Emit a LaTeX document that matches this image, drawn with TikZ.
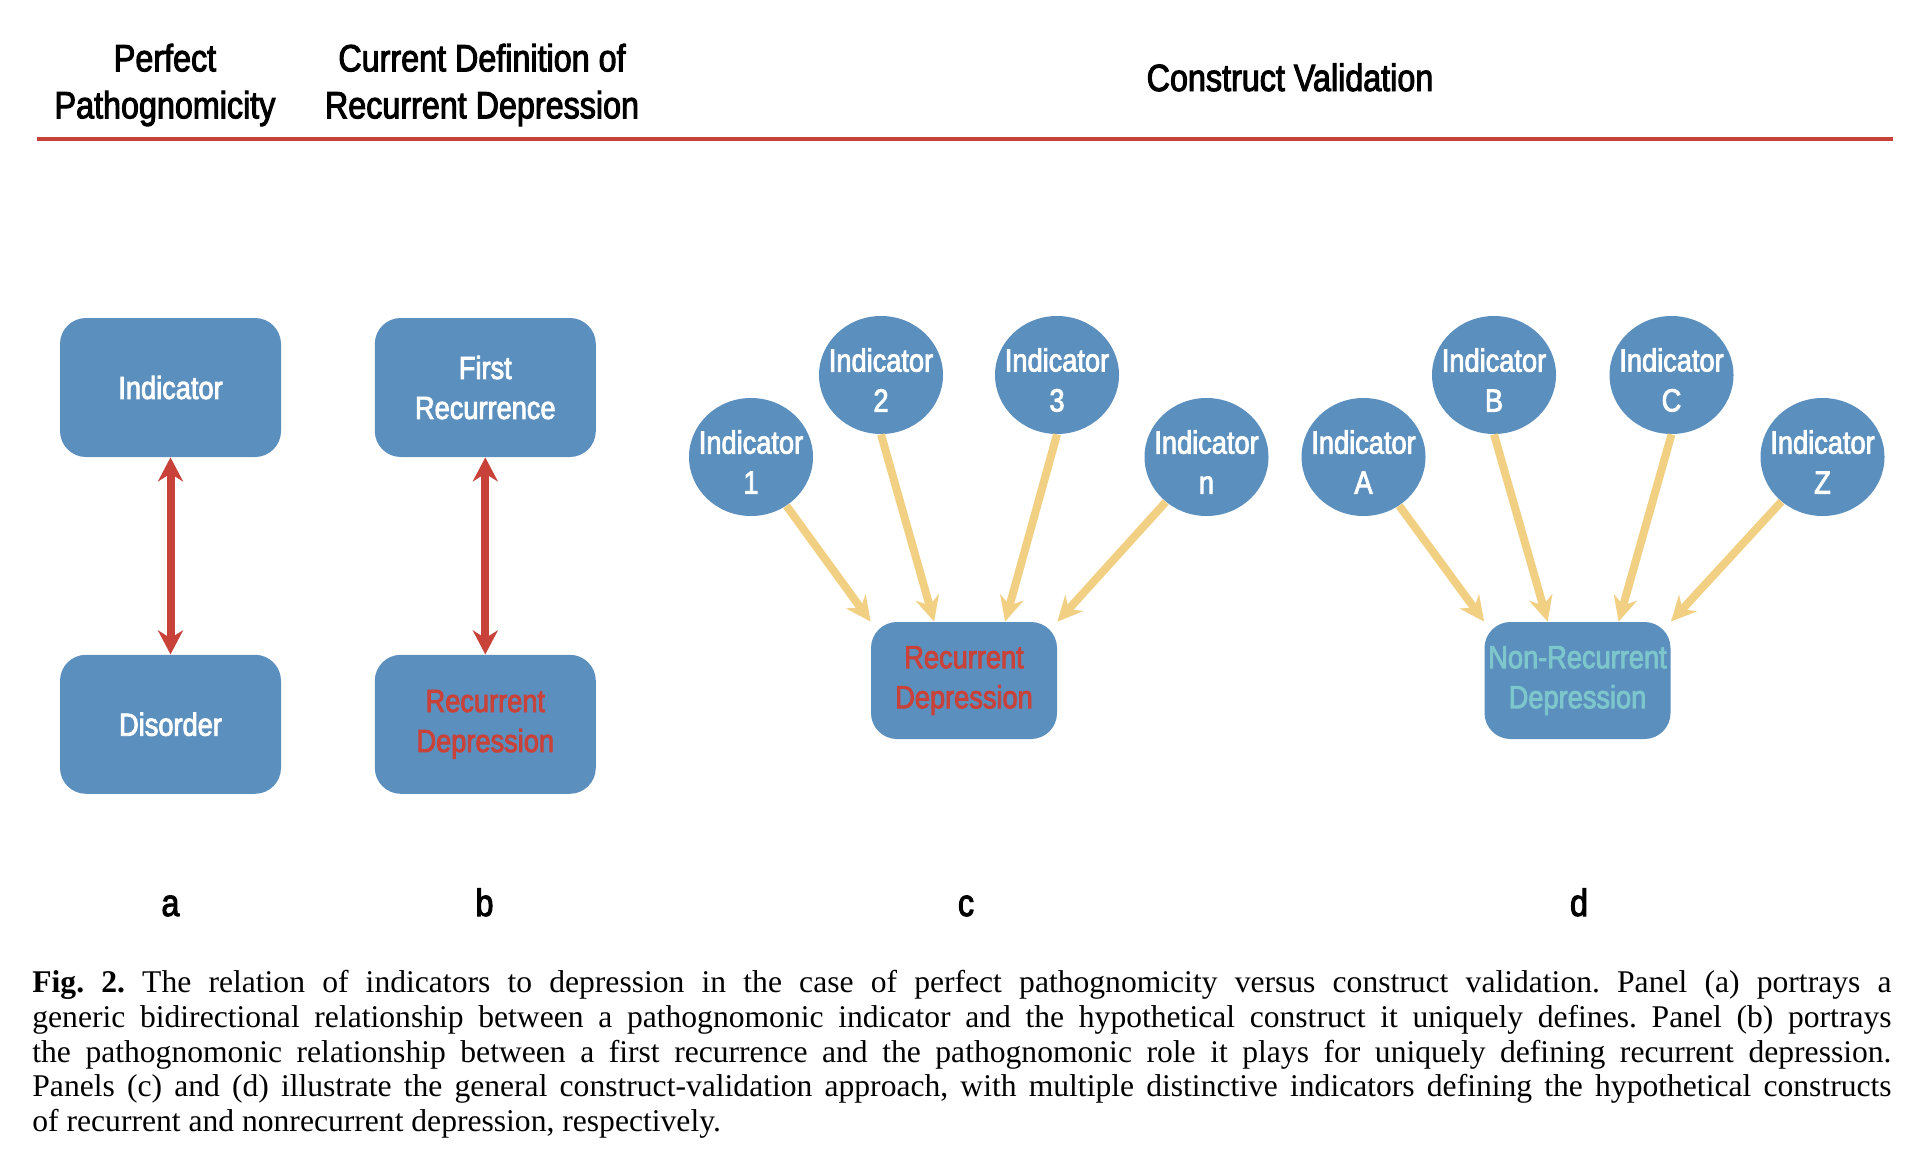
\documentclass[tikz,border=0pt]{standalone}
\usepackage{fontspec}
\setmainfont{Liberation Serif}
\newfontfamily\condsf{Liberation Sans}[FakeStretch=0.85, FakeBold=2.6]
\usetikzlibrary{positioning,arrows.meta,shapes.geometric,calc}

\definecolor{boxblue}{RGB}{91,143,190}
\definecolor{rulered}{RGB}{200,66,58}
\definecolor{feedyellow}{RGB}{242,208,131}
\definecolor{tealtext}{RGB}{124,198,204}

\newcommand{\hdrfont}{\condsf\fontsize{19pt}{23.5pt}\selectfont}
\newcommand{\boxfont}{\condsf\fontsize{16pt}{20pt}\selectfont}

\begin{document}
\begin{tikzpicture}[
    x=0.5pt, y=-0.5pt,
    header/.style={inner sep=0pt, align=center, font=\hdrfont},
    box/.style={rectangle, rounded corners=13pt, minimum width=110.5pt, minimum height=69.5pt, fill=boxblue, text=white, align=center, font=\boxfont, inner sep=1pt},
    smallbox/.style={box, minimum width=93pt, minimum height=58.5pt},
    indic/.style={ellipse, fill=boxblue, minimum width=62pt, minimum height=59pt, inner sep=0pt},
    indtext/.style={text=white, align=center, font=\boxfont, inner sep=0pt, yshift=-2.5pt},
    twoway/.style={line width=4pt, draw=rulered, {Stealth[length=12pt,width=12.5pt]}-{Stealth[length=12pt,width=12.5pt]}},
    feed/.style={line width=4pt, draw=feedyellow, -{Stealth[length=12.5pt,width=12pt]}},
    panel/.style={anchor=base, font=\hdrfont, inner sep=0pt}
]
\path[fill=white, use as bounding box] (0,0) rectangle (1932,1172);

% Headers
\node (hdrperfect) [header] at (165,85) {Perfect\\Pathognomicity};
\node (hdrcurrent) [header] at (482,85) {Current Definition of\\Recurrent Depression};
\node (hdrconstruct) [header, anchor=base] at (1290,91) {Construct Validation};
\draw[rulered, line width=2pt] (37,138.7) -- (1893,138.7);

% Panel a
\node (indicator) [box] at (170.5,387.5) {Indicator};
\node (disorder) [box, below=98.5pt of indicator] {Disorder};

% Panel b
\node (firstrec) [box, right=46.5pt of indicator] {First\\Recurrence};
\node (recdep) [box, below=98.5pt of firstrec, text=rulered] {Recurrent\\Depression};

% Panel c
\node (ind1) [indic] at (751,457) {};
\node (ind2) [indic] at (881,375) {};
\node (ind3) [indic] at (1057,375) {};
\node (indn) [indic] at (1206.5,457) {};
\node (ind1txt) [indtext] at (ind1) {Indicator\\1};
\node (ind2txt) [indtext] at (ind2) {Indicator\\2};
\node (ind3txt) [indtext] at (ind3) {Indicator\\3};
\node (indntxt) [indtext] at (indn) {Indicator\\n};
\node (recC) [smallbox, text=rulered] at (964,680.5) {Recurrent\\Depression};

% Panel d
\node (indA) [indic] at (1363.5,457) {};
\node (indB) [indic] at (1494,375) {};
\node (indC) [indic] at (1671.5,375) {};
\node (indZ) [indic] at (1822.5,457) {};
\node (indAtxt) [indtext] at (indA) {Indicator\\A};
\node (indBtxt) [indtext] at (indB) {Indicator\\B};
\node (indCtxt) [indtext] at (indC) {Indicator\\C};
\node (indZtxt) [indtext] at (indZ) {Indicator\\Z};
\node (nonrecD) [smallbox, text=tealtext] at (1577.5,680.5) {Non-Recurrent\\Depression};

% Bidirectional arrows
\draw[twoway] (indicator) -- (disorder);
\draw[twoway] (firstrec) -- (recdep);

% Indicator arrows
\draw[feed] (ind1) -- (recC.north west);
\draw[feed] (ind2.south) -- ($(recC.north west)!.34!(recC.north east)$);
\draw[feed] (ind3.south) -- ($(recC.north west)!.72!(recC.north east)$);
\draw[feed] (indn) -- (recC.north east);
\draw[feed] (indA) -- (nonrecD.north west);
\draw[feed] (indB.south) -- ($(nonrecD.north west)!.34!(nonrecD.north east)$);
\draw[feed] (indC.south) -- ($(nonrecD.north west)!.72!(nonrecD.north east)$);
\draw[feed] (indZ) -- (nonrecD.north east);

% Panel letters
\node (labA) [panel] at (170.5,916) {a};
\node (labB) [panel] at (484.5,916) {b};
\node (labC) [panel] at (966,916) {c};
\node (labD) [panel] at (1579,916) {d};

% Caption
\node (caption) [anchor=north west, text width=929.5pt, align=justify, inner sep=0pt, font=\fontsize{15.8pt}{17.35pt}\selectfont\frenchspacing] at (32,970) {\textbf{Fig. 2.} The relation of indicators to depression in the case of perfect pathognomicity versus construct validation. Panel (a) portrays a\linebreak generic bidirectional relationship between a pathognomonic indicator and the hypothetical construct it uniquely defines. Panel (b) portrays\linebreak the pathognomonic relationship between a first recurrence and the pathognomonic role it plays for uniquely defining recurrent depression.\linebreak Panels (c) and (d) illustrate the general construct-validation approach, with multiple distinctive indicators defining the hypothetical constructs\linebreak of recurrent and nonrecurrent depression, respectively.};

\end{tikzpicture}
\end{document}
